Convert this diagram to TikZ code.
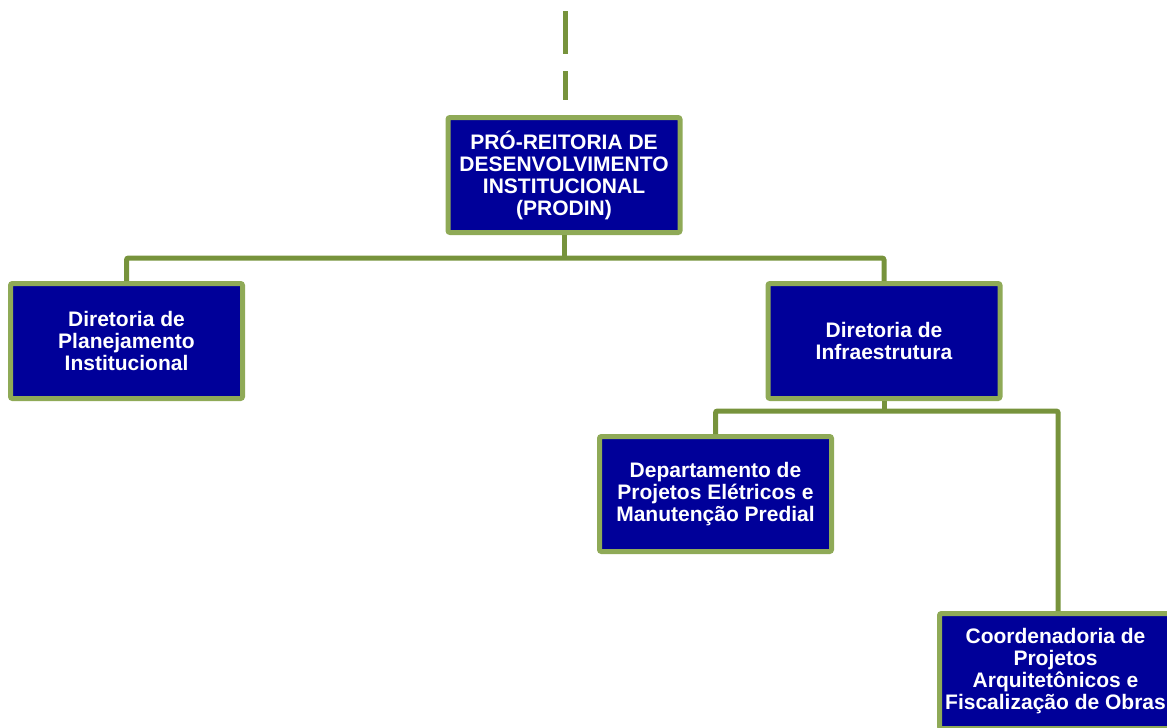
\documentclass[tikz,border=0pt]{standalone}
\usepackage{fontspec}
\setmainfont{Liberation Sans}
\definecolor{boxfill}{RGB}{0,0,153}
\definecolor{boxborder}{RGB}{143,170,87}
\definecolor{linkgreen}{RGB}{119,147,60}
\tikzset{
  orgbox/.style={draw=boxborder, fill=boxfill, line width=3.75pt, rounded corners=1.5pt,
    minimum width=174pt, minimum height=86.25pt, inner sep=0pt, align=center,
    text=white, font=\bfseries\fontsize{15.75}{16.5}\selectfont},
  link/.style={draw=linkgreen, line width=3.75pt, rounded corners=1.5pt},
  dashlink/.style={draw=linkgreen, line width=3.75pt, dash pattern=on 32.25pt off 12.75pt}
}
\begin{document}
\begin{tikzpicture}[x=0.75pt,y=-0.75pt]
\clip (0,0) rectangle (1167,728);
\node[orgbox] (prodin) at (564,175) {PRÓ-REITORIA DE\\DESENVOLVIMENTO\\INSTITUCIONAL\\(PRODIN)};
\node[orgbox] (plan) at (126.5,341) {Diretoria de\\Planejamento\\Institucional};
\node[orgbox] (infra) at (884,341) {Diretoria de\\Infraestrutura};
\node[orgbox] (dept) at (715.5,494) {Departamento de\\Projetos Elétricos e\\Manutenção Predial};
\node[orgbox] (coord) at (1055.5,671) {Coordenadoria de\\Projetos\\Arquitetônicos e\\Fiscalização de Obras};
\coordinate (top) at (565.5,11);
\coordinate (topend) at (565.5,100);
\coordinate (bus1) at (564,258);
\coordinate (bus2) at (884,411);
\coordinate (coordin) at ([xshift=2pt]coord.north);
\draw[dashlink] (top) -- (topend);
\draw[link] (prodin.south) -- (bus1);
\draw[link] (plan.north) |- (bus1) -| (infra.north);
\draw[link] (infra.south) -- (bus2);
\draw[link] (dept.north) |- (bus2) -| (coordin);
\end{tikzpicture}
\end{document}
